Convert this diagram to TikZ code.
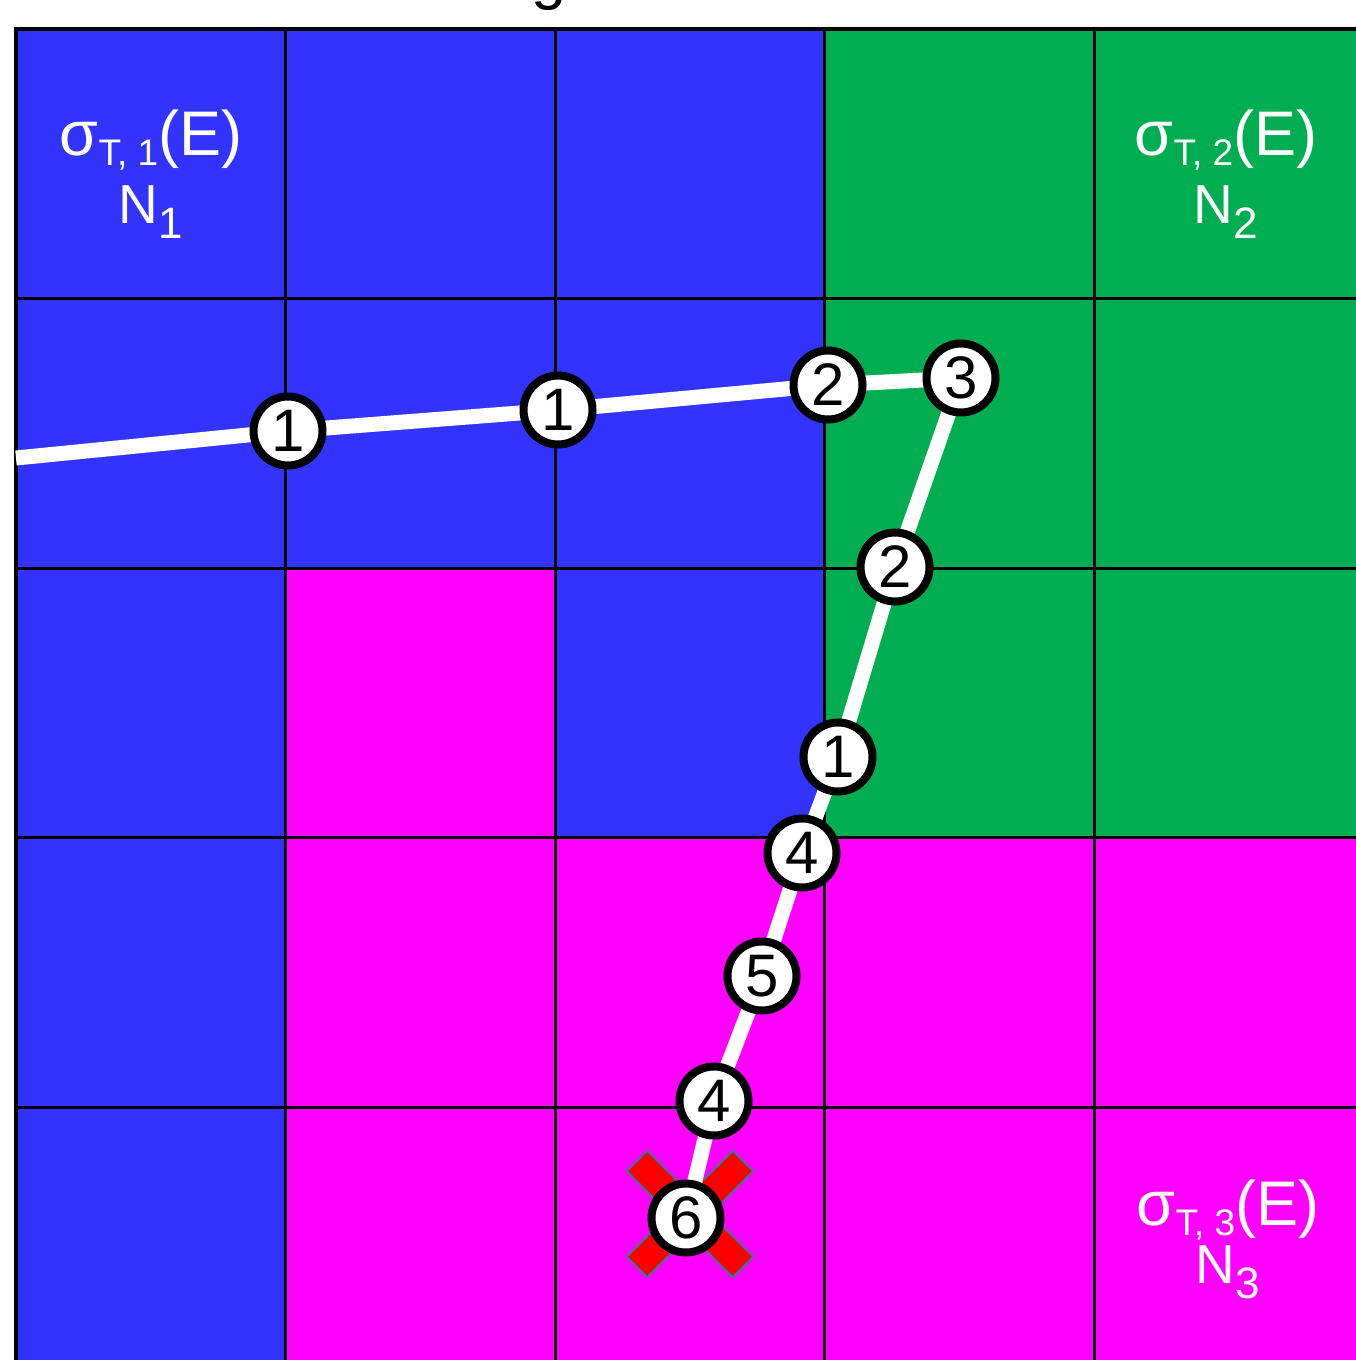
\documentclass[tikz,border=0pt]{standalone}
\usepackage{fontspec}
\setmainfont{Liberation Sans}
\pgfdeclarelayer{back}
\pgfdeclarelayer{mid}
\pgfsetlayers{back,mid,main}
\definecolor{cblue}{HTML}{3333FF}
\definecolor{cgreen}{HTML}{00AD50}
\definecolor{cmag}{HTML}{FF00FF}
\definecolor{xborder}{HTML}{41719C}
\definecolor{xred}{HTML}{FF0000}
\begin{document}
\begin{tikzpicture}[x=1pt,y=-1pt,
  marker/.style={circle, draw=black, line width=8pt, fill=white, minimum size=69pt, inner sep=0pt, font=\fontsize{60}{60}\selectfont},
  xbar/.style={rectangle, draw=xborder, line width=2pt, fill=xred, minimum width=150pt, minimum height=29pt, inner sep=0pt},
  lbl/.style={anchor=base, text=white, inner sep=0pt},
  gridline/.style={black, line width=3pt},
  track/.style={white, line width=15pt}]
\useasboundingbox (0,0) rectangle (1356,1360);
% title fragment
\node[anchor=base, inner sep=0pt, font=\fontsize{63}{63}\selectfont] (title) at (549,-3) {g};
% cells
\begin{pgfonlayer}{back}
\foreach \c/\r/\col in {
  0/0/cblue,1/0/cblue,2/0/cblue,3/0/cgreen,4/0/cgreen,
  0/1/cblue,1/1/cblue,2/1/cblue,3/1/cgreen,4/1/cgreen,
  0/2/cblue,1/2/cmag,2/2/cblue,3/2/cgreen,4/2/cgreen,
  0/3/cblue,1/3/cmag,2/3/cmag,3/3/cmag,4/3/cmag,
  0/4/cblue,1/4/cmag,2/4/cmag,3/4/cmag,4/4/cmag}{
  \fill[\col] ({16+269.5*\c},{29+269.5*\r}) rectangle ({16+269.5*(\c+1)},{29+269.5*(\r+1)});
}
\foreach \c in {1,2,3,4}{
  \draw[gridline] ({16+269.5*\c},29) -- ({16+269.5*\c},1380);
}
\foreach \r in {1,2,3,4}{
  \draw[gridline] (16,{29+269.5*\r}) -- (1380,{29+269.5*\r});
}
\draw[black, line width=4pt] (16,1380) -- (16,29) -- (1380,29);
\end{pgfonlayer}
% labels
\node[lbl, font=\fontsize{63}{63}\selectfont] (s1) at (151,155) {σ\raisebox{-10pt}{\fontsize{37}{37}\selectfont T, 1}(E)};
\node[lbl, font=\fontsize{55}{55}\selectfont] (n1) at (151,223) {N\raisebox{-15pt}{\fontsize{44}{44}\selectfont 1}};
\node[lbl, font=\fontsize{63}{63}\selectfont] (s2) at (1226,155) {σ\raisebox{-10pt}{\fontsize{37}{37}\selectfont T, 2}(E)};
\node[lbl, font=\fontsize{55}{55}\selectfont] (n2) at (1226,223) {N\raisebox{-15pt}{\fontsize{44}{44}\selectfont 2}};
\node[lbl, font=\fontsize{63}{63}\selectfont] (s3) at (1228,1225) {σ\raisebox{-10pt}{\fontsize{37}{37}\selectfont T, 3}(E)};
\node[lbl, font=\fontsize{55}{55}\selectfont] (n3) at (1228,1283) {N\raisebox{-15pt}{\fontsize{44}{44}\selectfont 3}};
% red X
\begin{pgfonlayer}{mid}
\node[xbar, rotate=45] (xa) at (690,1214) {};
\node[xbar, rotate=-45] (xb) at (690,1214) {};
\end{pgfonlayer}
% markers
\coordinate (start) at (16,458);
\node[marker] (m1) at (288,431) {1};
\node[marker] (m2) at (558,410) {1};
\node[marker] (m3) at (828,385) {2};
\node[marker] (m4) at (961,378) {3};
\node[marker] (m5) at (895,567) {2};
\node[marker] (m6) at (838,757) {1};
\node[marker] (m7) at (802,853) {4};
\node[marker] (m8) at (762,976) {5};
\node[marker] (m9) at (714,1101) {4};
\node[marker] (m10) at (686,1218) {6};
\begin{pgfonlayer}{mid}
\draw[track] (start) -- (m1.center) -- (m2.center) -- (m3.center) -- (m4.center) -- (m5.center) -- (m6.center) -- (m7.center) -- (m8.center) -- (m9.center) -- (m10.center);
\end{pgfonlayer}
\end{tikzpicture}
\end{document}
